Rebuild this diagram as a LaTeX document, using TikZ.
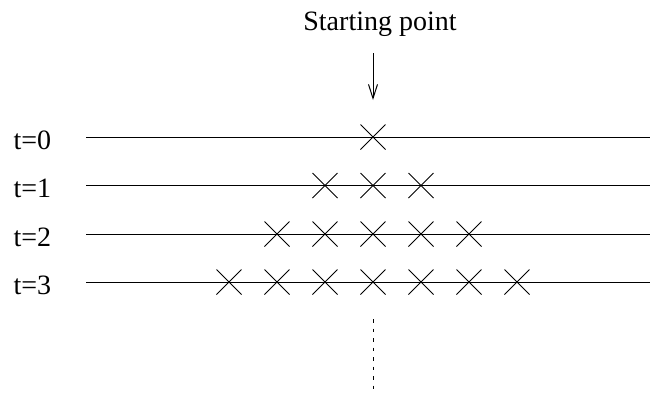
\documentclass[tikz,border=0pt]{standalone}
\usepackage{fontspec}
\setmainfont{Liberation Serif}
\usetikzlibrary{arrows.meta,shapes.misc}
\begin{document}
\begin{tikzpicture}[x=1pt,y=-1pt,line width=1pt,
  lbl/.style={font=\fontsize{28}{30}\selectfont,inner sep=0pt,anchor=base west},
  xmk/.style={cross out,draw,minimum size=24pt,inner sep=0pt,line width=1pt},
  rowline/.style={line width=1pt},
  dotline/.style={line width=1pt,dash pattern=on 3.5pt off 6pt}]
\useasboundingbox (0,0) rectangle (650,392);
% title and arrow
\node[font=\fontsize{28}{30}\selectfont,inner sep=0pt,anchor=base] (start) at (380,30) {Starting point};
\coordinate (a1) at (373,53);
\coordinate (a2) at (373,100);
\draw[-{Straight Barb[length=14pt,width=9pt]}] (a1) -- (a2);
% rows
\foreach \i/\y in {0/137,1/185.5,2/234,3/282}{
  \node[lbl] (t\i) at (13,\y+12) {t=\i};
  \coordinate (l\i) at (86,\y);
  \coordinate (r\i) at (650,\y);
  \draw[rowline] (l\i) -- (r\i);
}
% crosses
\node[xmk] (x00) at (373,137) {};
\foreach \k in {-1,0,1}{\node[xmk] (x1\k) at (373+48*\k,185.5) {};}
\foreach \k in {-2,-1,0,1,2}{\node[xmk] (x2\k) at (373+48*\k,234) {};}
\foreach \k in {-3,-2,-1,0,1,2,3}{\node[xmk] (x3\k) at (373+48*\k,282) {};}
% dotted continuation
\coordinate (d1) at (373,319);
\coordinate (d2) at (373,392);
\draw[dotline] (d1) -- (d2);
\end{tikzpicture}
\end{document}
